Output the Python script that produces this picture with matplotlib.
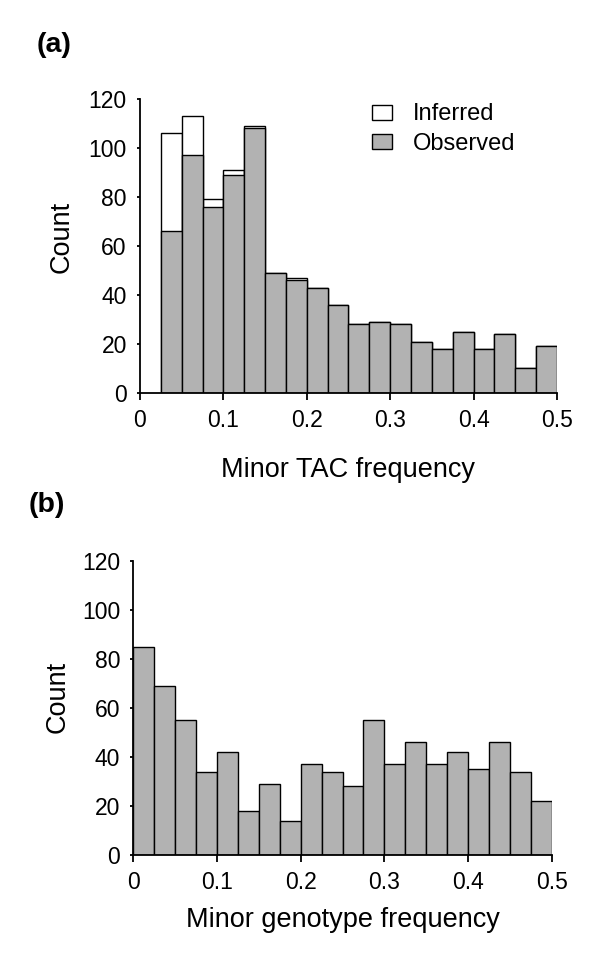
import numpy as np
import matplotlib
matplotlib.use("Agg")
from matplotlib import pyplot as plt
from matplotlib.patches import Patch

plt.rcParams['font.family'] = ['Liberation Sans', 'DejaVu Sans']

# panel (a): minor TAC frequency, bins of 0.025 starting at 0.025
tac_bin_left = np.arange(0.025, 0.5, 0.025)
tac_observed = [66, 97, 76, 89, 108, 49, 46, 43, 36, 28, 29, 28, 21, 18, 25, 18, 24, 10, 19]
tac_total = [106, 113, 79, 91, 109, 49, 47, 43, 36, 28, 29, 28, 21, 18, 25, 18, 24, 10, 19]

# panel (b): minor genotype frequency, bins of 0.025 starting at 0
geno_bin_left = np.arange(0.0, 0.5, 0.025)
geno_count = [85, 69, 55, 34, 42, 18, 29, 14, 37, 34, 28, 55, 37, 46, 37, 42, 35, 46, 34, 22]

xticks = [0, 0.1, 0.2, 0.3, 0.4, 0.5]
xtick_labels = ['0', '0.1', '0.2', '0.3', '0.4', '0.5']
yticks = [0, 20, 40, 60, 80, 100, 120]

gray = '#b2b2b2'
W = 0.025

fig = plt.figure(figsize=(6, 9.66), dpi=100)
ax1 = fig.add_axes([0.2333, 0.5932, 0.695, 0.3043])
ax2 = fig.add_axes([0.2222, 0.1149, 0.6973, 0.3044])


def style(ax):
    ax.spines['top'].set_visible(False)
    ax.spines['right'].set_visible(False)
    ax.spines['left'].set_linewidth(1.3)
    ax.spines['bottom'].set_linewidth(1.3)
    ax.set_xlim(0, 0.5)
    ax.set_ylim(0, 120)
    ax.set_xticks(xticks)
    ax.set_xticklabels(xtick_labels)
    ax.set_yticks(yticks)
    ax.tick_params(axis='x', direction='out', length=5, width=1.3, pad=6.5, labelsize=16.5)
    ax.tick_params(axis='y', direction='out', length=2.5, width=1.3, pad=7, labelsize=16.5)


# (a) inferred (white) behind, observed (gray) in front
ax1.bar(tac_bin_left, tac_total, width=W, align='edge', color='white',
        edgecolor='black', linewidth=1.0)
ax1.bar(tac_bin_left, tac_observed, width=W, align='edge', color=gray,
        edgecolor='black', linewidth=1.0)
style(ax1)
ax1.set_ylabel('Count', fontsize=19.5, va='center')
ax1.yaxis.set_label_coords(-0.187, 0.53)
ax1.set_xlabel('Minor TAC frequency', fontsize=19.5, va='center')
ax1.xaxis.set_label_coords(0.5, -0.262)

handles = [Patch(facecolor='white', edgecolor='black', linewidth=1.0),
           Patch(facecolor=gray, edgecolor='black', linewidth=1.0)]
ax1.legend(handles, ['Inferred', 'Observed'], loc='upper left',
           bbox_to_anchor=(0.556, 0.985), frameon=False, fontsize=17,
           handlelength=0.85, handleheight=0.6, handletextpad=0.9,
           labelspacing=0.3, borderpad=0, borderaxespad=0)

# (b)
ax2.bar(geno_bin_left, geno_count, width=W, align='edge', color=gray,
        edgecolor='black', linewidth=1.0)
style(ax2)
ax2.set_ylabel('Count', fontsize=19.5, va='center')
ax2.yaxis.set_label_coords(-0.182, 0.537)
ax2.set_xlabel('Minor genotype frequency', fontsize=19.5, va='center')
ax2.xaxis.set_label_coords(0.5, -0.221)

fig.text(0.09, 0.9534, '(a)', fontsize=20.5, fontweight='bold', ha='center', va='center')
fig.text(0.078, 0.4772, '(b)', fontsize=20.5, fontweight='bold', ha='center', va='center')

fig.savefig('out.png', dpi=100)
